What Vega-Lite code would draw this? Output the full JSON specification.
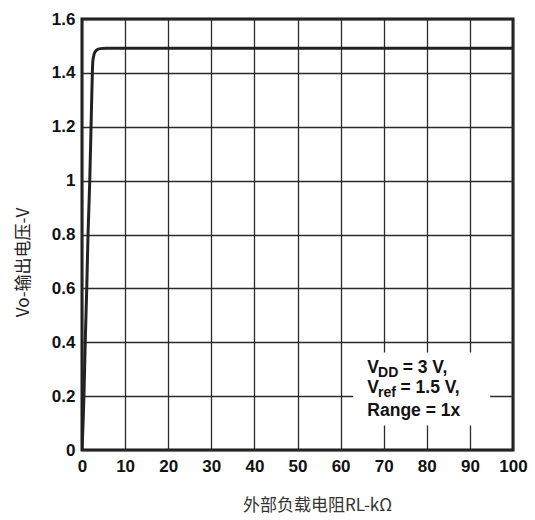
{
  "$schema": "https://vega.github.io/schema/vega-lite/v6.json",
  "autosize": {"type": "none"},
  "padding": {"left": 82, "top": 19, "right": 22, "bottom": 70},
  "width": 431,
  "height": 431,
  "config": {
    "view": {"stroke": "#1a1a1a", "strokeWidth": 3},
    "font": "Liberation Sans"
  },
  "datasets": {
    "curve": [
      {"r": 0.0, "v": 0.0},
      {"r": 0.45, "v": 0.2},
      {"r": 0.75, "v": 0.4},
      {"r": 1.1, "v": 0.6},
      {"r": 1.4, "v": 0.8},
      {"r": 1.8, "v": 1.0},
      {"r": 2.1, "v": 1.2},
      {"r": 2.4, "v": 1.4},
      {"r": 2.5, "v": 1.44},
      {"r": 2.7, "v": 1.462},
      {"r": 3.0, "v": 1.477},
      {"r": 3.5, "v": 1.486},
      {"r": 4.2, "v": 1.49},
      {"r": 5.5, "v": 1.491},
      {"r": 100, "v": 1.491}
    ],
    "box": [{"x1": 62.9, "x2": 94.7, "y1": 0.091, "y2": 0.362}],
    "mainText": [
      {"x": 66.2, "y": 0.285, "t": "V"},
      {"x": 74.4, "y": 0.285, "t": "= 3 V,"},
      {"x": 66.2, "y": 0.21, "t": "V"},
      {"x": 73.9, "y": 0.21, "t": "= 1.5 V,"},
      {"x": 66.2, "y": 0.128, "t": "Range = 1x"}
    ],
    "subText": [
      {"x": 68.7, "y": 0.285, "t": "DD"},
      {"x": 68.7, "y": 0.21, "t": "ref"}
    ]
  },
  "layer": [
    {
      "data": {"name": "curve"},
      "mark": {"type": "line", "color": "#222222", "strokeWidth": 3, "interpolate": "monotone", "clip": true},
      "encoding": {
        "x": {
          "field": "r", "type": "quantitative",
          "scale": {"domain": [0, 100], "nice": false},
          "axis": {
            "values": [0, 10, 20, 30, 40, 50, 60, 70, 80, 90, 100],
            "grid": true, "gridColor": "#2a2a2a", "gridWidth": 1.3, "gridOpacity": 1,
            "domain": false, "ticks": false, "labelFlush": false, "labelOverlap": false,
            "labelFont": "Liberation Sans", "labelFontWeight": "bold", "labelFontSize": 17,
            "labelColor": "#111111", "labelPadding": 8,
            "title": "外部负载电阻RL-kΩ",
            "titleFont": "Noto Sans CJK SC", "titleFontWeight": "normal", "titleFontSize": 17,
            "titleColor": "#333333", "titleX": 235, "titleY": 55, "titleBaseline": "middle"
          }
        },
        "y": {
          "field": "v", "type": "quantitative",
          "scale": {"domain": [0, 1.6], "nice": false},
          "axis": {
            "values": [0, 0.2, 0.4, 0.6, 0.8, 1, 1.2, 1.4, 1.6],
            "format": "~g", "labelFlush": false, "labelOverlap": false,
            "grid": true, "gridColor": "#2a2a2a", "gridWidth": 1.3, "gridOpacity": 1,
            "domain": false, "ticks": false,
            "labelFont": "Liberation Sans", "labelFontWeight": "bold", "labelFontSize": 17,
            "labelColor": "#111111", "labelPadding": 7,
            "title": "Vo-输出电压-V",
            "titleFont": "Noto Sans CJK SC", "titleFontWeight": "normal", "titleFontSize": 17,
            "titleColor": "#222222", "titleX": -59, "titleY": 243, "titleBaseline": "middle"
          }
        }
      }
    },
    {
      "data": {"name": "box"},
      "mark": {"type": "rect", "fill": "white", "stroke": null},
      "encoding": {
        "x": {"field": "x1", "type": "quantitative"},
        "x2": {"field": "x2"},
        "y": {"field": "y1", "type": "quantitative"},
        "y2": {"field": "y2"}
      }
    },
    {
      "data": {"name": "mainText"},
      "mark": {"type": "text", "align": "left", "baseline": "alphabetic", "font": "Liberation Sans", "fontWeight": "bold", "fontSize": 17.5, "color": "#111111"},
      "encoding": {
        "x": {"field": "x", "type": "quantitative"},
        "y": {"field": "y", "type": "quantitative"},
        "text": {"field": "t"}
      }
    },
    {
      "data": {"name": "subText"},
      "mark": {"type": "text", "align": "left", "baseline": "alphabetic", "dy": 4, "font": "Liberation Sans", "fontWeight": "bold", "fontSize": 14, "color": "#111111"},
      "encoding": {
        "x": {"field": "x", "type": "quantitative"},
        "y": {"field": "y", "type": "quantitative"},
        "text": {"field": "t"}
      }
    }
  ]
}
